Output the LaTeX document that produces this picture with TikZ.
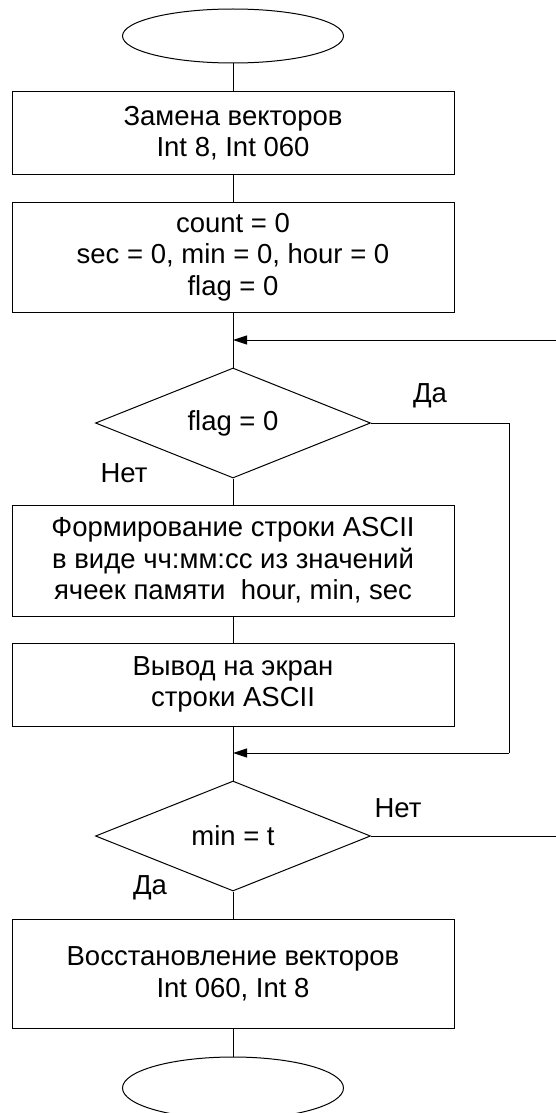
\documentclass[tikz,border=0pt]{standalone}
\usepackage{fontspec}
\setmainfont{Liberation Sans}
\usetikzlibrary{shapes.geometric,arrows.meta}
\begin{document}
\begin{tikzpicture}[x=1pt,y=-1pt,
  every node/.style={font=\fontsize{27.5}{31.6}\selectfont},
  line/.style={line width=1pt},
  proc/.style={draw,line width=1pt,rectangle,minimum width=442pt,inner sep=0pt,align=center},
  cond/.style={draw,line width=1pt,diamond,aspect=2.5,inner sep=0pt,minimum width=275pt,minimum height=110pt},
  term/.style={draw,line width=1pt,ellipse,minimum width=221pt,inner sep=0pt},
  arr/.style={line width=1pt,-{Triangle[length=14pt,width=9pt]}}
]
\useasboundingbox (0,0) rectangle (556,1113);

% blocks
\node[term,minimum height=54pt] (start) at (233,36) {};
\node[proc,minimum height=82pt] (b1) at (233,133) {Замена векторов\\Int 8, Int 060};
\node[proc,minimum height=110pt] (b2) at (233,257) {count = 0\\sec = 0, min = 0, hour = 0\\flag = 0};
\node[cond] (d1) at (233,423) {flag = 0};
\node[proc,minimum height=111pt] (b3) at (233,560.5) {Формирование строки ASCII\\в виде чч:мм:сс из значений\\ячеек памяти~ hour, min, sec};
\node[proc,minimum height=83pt] (b4) at (233,684.5) {Вывод на экран\\строки ASCII};
\node[cond] (d2) at (233,836) {min = t};
\node[proc,minimum height=109pt] (b5) at (233,973.5) {Восстановление векторов\\Int 060, Int 8};
\node[term,minimum height=62pt] (stop) at (233,1088) {};

% junction points
\coordinate (j1) at (233,340);
\coordinate (e1) at (560,340);
\coordinate (r1) at (509,423);
\coordinate (r2) at (509,753);
\coordinate (j2) at (233,753);
\coordinate (e2) at (560,836);

% main flow
\draw[line] (start) -- (b1);
\draw[line] (b1) -- (b2);
\draw[line] (b2) -- (d1);
\draw[line] (d1) -- (b3);
\draw[line] (b3) -- (b4);
\draw[line] (b4) -- (d2);
\draw[line] (d2) -- (b5);
\draw[line] (b5) -- (stop);

% loops
\draw[arr] (e1) -- (j1);
\draw[line] (d1.east) -- (r1) -- (r2);
\draw[arr] (r2) -- (j2);
\draw[line] (d2.east) -- (e2);

% branch labels
\node (yes1) at (430,396) {Да};
\node (no1) at (124,473) {Нет};
\node (no2) at (398,808) {Нет};
\node (yes2) at (150,888) {Да};
\end{tikzpicture}
\end{document}
